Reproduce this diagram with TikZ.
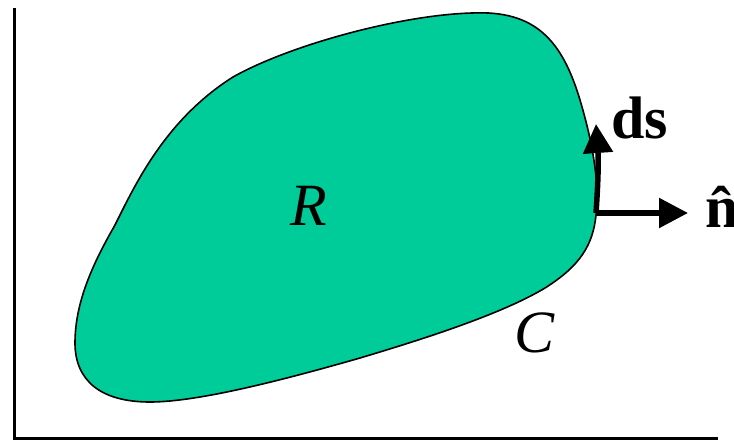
\documentclass[tikz,border=0pt]{standalone}
\usepackage{fontspec}
\setmainfont{Liberation Serif}
\usetikzlibrary{arrows.meta}
\definecolor{regiongreen}{RGB}{0,204,153}
\tikzset{
  axisline/.style={line width=3pt, black},
  boundary/.style={draw=black, line width=1.6pt, fill=regiongreen},
  vecarrow/.style={line width=5.5pt, -{Triangle[length=29pt,width=29pt]}},
  biglabel/.style={font=\fontsize{60}{60}\selectfont, inner sep=0pt},
}
\begin{document}
\begin{tikzpicture}[x=1pt,y=-1pt]
\useasboundingbox (0,0) rectangle (734,440);
% axes
\coordinate (axTop) at (14,8);
\coordinate (axOrigin) at (14,438);
\coordinate (axRight) at (718,438);
\draw[axisline] (axTop) -- (axOrigin) -- (axRight);
% region R
\draw[boundary] (472,13)
  .. controls (535,10) and (562,40) .. (580,100)
  .. controls (591,137) and (600,180) .. (596,215)
  .. controls (593,245) and (580,266) .. (545,288)
  .. controls (500,315) and (420,340) .. (360,358)
  .. controls (290,378) and (200,402) .. (150,402)
  .. controls (100,402) and (75,380) .. (75,343)
  .. controls (75,300) and (95,260) .. (115,225)
  .. controls (135,185) and (165,120) .. (233,77)
  .. controls (290,45) and (400,15) .. (472,13) -- cycle;
% vectors
\coordinate (base) at (596,213);
\coordinate (dsTip) at (596,124);
\coordinate (nTip) at (688,213);
\draw[vecarrow] (base) to[bend right=4] (dsTip);
\draw[vecarrow] (base) -- (nTip);
% labels
\node[biglabel, anchor=base west] (ds) at (611,138) {\textbf{ds}};
\node[biglabel, anchor=base west] (nhat) at (705,227) {\textbf{\^n}};
\node[biglabel, anchor=base west] (R) at (290,225) {\textit{R}};
\node[biglabel, anchor=base west] (C) at (514,352) {\textit{C}};
\end{tikzpicture}
\end{document}
